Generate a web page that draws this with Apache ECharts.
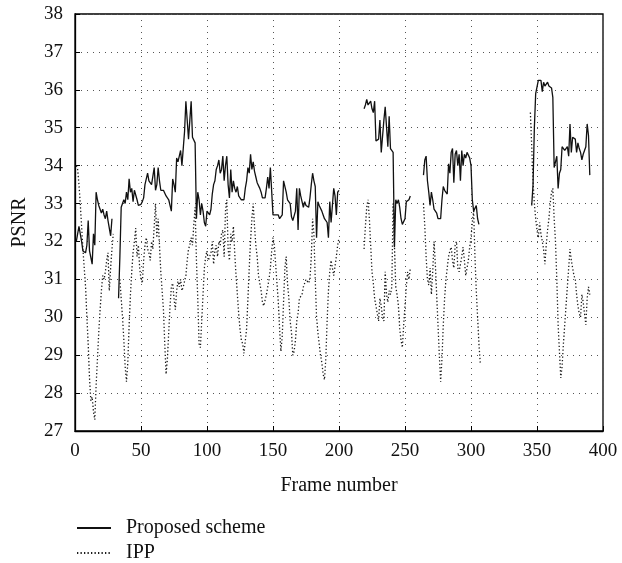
<!DOCTYPE html>
<html>
<head>
<meta charset="utf-8">
<title>PSNR per frame</title>
<script src="https://cdn.jsdelivr.net/npm/echarts@6/dist/echarts.min.js"></script>
<style>
  html, body { margin: 0; padding: 0; background: #fff; }
  #chart { width: 622px; height: 563px; }
</style>
</head>
<body>
<div id="chart"></div>
<script>
// Axis ranges and tick steps
const frameTicks = [0, 50, 100, 150, 200, 250, 300, 350, 400];
const psnrTicks = [27, 28, 29, 30, 31, 32, 33, 34, 35, 36, 37, 38];

// Legend / series names
const seriesNames = ['Proposed scheme', 'IPP'];

// Proposed scheme: first frame of each run, then the PSNR of consecutive frames
const proposedStarts = [1, 33, 219, 264, 346];
const proposedRun1 = [32.0, 32.2, 32.4, 32.45, 32.0, 31.75, 31.8, 31.7, 31.9, 32.55,
  31.75, 31.8, 31.4, 32.2, 31.9, 33.3, 33.1, 32.95, 32.85, 32.75,
  32.85, 32.7, 32.6, 32.8, 32.55, 32.5, 32.15, 32.6];
const proposedRun2 = [30.5, 31.6, 32.9, 33.0, 33.1, 33.0, 33.3, 33.1, 33.65, 33.3,
  33.4, 33.05, 33.35, 33.3, 33.1, 32.95, 33.0, 32.98, 33.05, 33.15,
  33.5, 33.55, 33.8, 33.6, 33.55, 33.5, 33.5, 33.95, 33.35, 33.5,
  33.95, 33.6, 33.35, 33.3, 33.35, 33.3, 33.2, 33.25, 33.1, 33.05,
  32.8, 33.65, 33.5, 33.3, 34.2, 34.1, 34.15, 34.4, 34.0, 34.45,
  34.9, 35.7, 35.7, 34.7, 35.2, 35.7, 34.75, 34.7, 34.6, 32.6,
  33.3, 33.1, 32.7, 33.0, 32.8, 32.5, 32.4, 32.8, 32.75, 32.7,
  32.85, 33.25, 33.5, 33.6, 33.9, 34.0, 34.15, 33.8, 33.9, 34.25,
  33.6, 34.0, 34.25, 33.5, 33.15, 33.9, 33.3, 33.6, 33.4, 33.3,
  33.45, 33.2, 33.15, 33.1, 33.1, 33.1, 33.4, 33.6, 33.95, 33.8,
  34.3, 33.9, 34.1, 33.85, 33.7, 33.55, 33.6, 33.4, 33.3, 33.15,
  33.1, 33.15, 33.4, 33.7, 33.4, 33.95, 34.0, 32.7, 32.75, 32.7,
  32.75, 32.7, 32.6, 32.6, 32.7, 33.6, 33.65, 33.3, 33.1, 33.1,
  33.0, 32.65, 32.55, 32.6, 32.8, 33.4, 32.3, 33.4, 33.2, 33.15,
  32.9, 33.05, 32.95, 32.9, 32.9, 33.15, 33.5, 33.8, 33.6, 33.45,
  32.1, 33.05, 32.95, 32.9, 32.8, 32.7, 32.6, 32.65, 32.5, 32.1,
  33.05, 32.5, 32.45, 33.4, 33.2, 32.7, 33.3, 33.35];
const proposedRun3 = [35.5, 35.6, 35.75, 35.6, 35.55, 35.7, 35.5, 35.4, 35.7, 34.65,
  34.65, 34.7, 35.2, 34.35, 34.35, 35.2, 35.55, 35.5, 34.5, 35.3,
  34.45, 34.4, 34.35, 31.85, 33.1, 33.0, 33.1, 32.9, 32.6, 32.45,
  32.4, 32.6, 33.05, 33.0, 33.1, 33.2];
const proposedRun4 = [33.75, 34.15, 34.25, 33.6, 33.3, 32.95, 33.3, 33.1, 32.85, 32.8,
  32.75, 32.6, 32.6, 32.6, 33.1, 33.45, 33.35, 33.3, 33.25, 34.05,
  33.8, 34.35, 34.45, 33.55, 34.3, 34.4, 34.0, 34.3, 33.6, 34.4,
  34.0, 34.3, 34.2, 34.35, 34.4, 34.2, 34.0, 33.1, 32.8, 32.8,
  32.95, 32.6, 32.45];
const proposedRun5 = [32.95, 33.5, 35.0, 35.9, 35.95, 36.25, 36.3, 36.25, 35.95, 36.2,
  36.1, 36.15, 36.2, 36.1, 36.15, 36.05, 35.8, 33.95, 33.9, 34.25,
  33.4, 33.8, 33.9, 34.5, 34.5, 34.4, 34.45, 34.5, 34.25, 35.1,
  34.35, 34.75, 34.75, 34.7, 34.35, 34.6, 34.45, 34.35, 34.15, 34.3,
  34.4, 34.5, 35.1, 34.8, 33.75];

// IPP: same layout
const ippStarts = [1, 34, 219, 264, 345];
const ippRun1 = [34.0, 33.9, 33.5, 33.0, 32.4, 31.8, 31.3, 30.8, 30.0, 29.3,
  28.4, 27.8, 27.9, 27.5, 27.3, 28.2, 28.9, 29.6, 30.2, 30.7,
  31.1, 31.0, 31.2, 31.5, 31.7, 30.7, 31.3, 31.8, 32.2];
const ippRun2 = [31.0, 30.5, 30.0, 29.4, 28.7, 28.3, 28.8, 29.8, 30.6, 31.2,
  31.7, 32.0, 32.35, 31.6, 31.9, 31.3, 31.0, 30.9, 31.5, 31.9,
  32.1, 31.8, 31.7, 31.5, 32.0, 31.8, 32.4, 33.0, 32.1, 32.6,
  31.9, 31.2, 30.7, 30.2, 29.3, 28.5, 28.9, 29.6, 30.3, 30.8,
  30.9, 30.5, 30.2, 30.7, 30.95, 30.8, 31.0, 30.7, 30.8, 30.75,
  31.1, 31.5, 31.8, 31.9, 32.1, 31.9, 32.45, 32.9, 31.5, 30.5,
  29.3, 29.2, 29.9, 30.6, 31.3, 31.6, 31.75, 31.5, 31.6, 31.7,
  32.0, 31.4, 31.75, 31.9, 31.6, 32.0, 31.9, 32.2, 32.3, 31.6,
  32.8, 33.1, 31.8, 31.5, 32.2, 32.0, 32.4, 31.7, 31.1, 30.6,
  30.1, 29.7, 29.4, 29.3, 29.05, 29.1, 29.7, 30.5, 31.3, 32.0,
  32.6, 33.0, 32.4, 31.9, 31.6, 31.1, 30.9, 30.7, 30.4, 30.3,
  30.45, 30.6, 30.8, 31.0, 31.3, 31.75, 32.1, 31.9, 31.4, 30.9,
  30.4, 29.7, 29.1, 29.5, 30.4, 31.3, 31.6, 30.9, 30.5, 29.9,
  29.6, 29.0, 29.1, 29.4, 29.9, 30.1, 30.5, 30.5, 30.6, 30.8,
  30.85, 31.0, 30.95, 30.9, 31.0, 31.6, 32.6, 32.2, 31.0, 30.0,
  29.6, 29.3, 29.0, 28.8, 28.5, 28.35, 28.9, 29.9, 30.7, 31.2,
  31.5, 31.3, 31.1, 31.35, 31.6, 31.9, 32.1];
const ippRun3 = [31.8, 32.4, 32.9, 33.1, 32.6, 31.9, 31.2, 30.9, 30.5, 30.3,
  30.1, 29.9, 30.5, 30.3, 30.0, 29.9, 31.2, 30.6, 30.4, 30.7,
  30.6, 30.8, 33.0, 31.9, 30.8, 30.6, 30.3, 29.7, 29.4, 29.2,
  29.8, 30.3, 30.8, 31.2, 31.0, 31.3];
const ippRun4 = [33.0, 32.4, 31.6, 31.0, 30.85, 31.3, 30.6, 31.2, 32.0, 31.4,
  30.6, 29.8, 29.0, 28.3, 28.9, 29.8, 30.5, 31.0, 31.3, 31.6,
  31.75, 31.85, 31.5, 31.3, 31.9, 32.0, 31.3, 31.2, 31.4, 31.6,
  31.85, 31.5, 31.1, 31.3, 31.5, 31.85, 32.1, 32.5, 32.8, 31.6,
  30.7, 30.0, 29.3, 28.8];
const ippRun5 = [35.4, 34.5, 33.6, 33.0, 32.6, 32.3, 32.1, 32.5, 32.2, 32.0,
  31.8, 31.4, 31.9, 32.3, 32.6, 33.0, 33.3, 33.4, 32.6, 32.0,
  31.0, 29.8, 29.1, 28.4, 28.7, 29.3, 29.8, 30.3, 30.8, 31.3,
  31.8, 31.5, 31.3, 31.1, 31.0, 30.6, 30.3, 30.1, 30.0, 30.6,
  30.4, 30.1, 29.8, 30.5, 30.8, 30.6];

// Turn runs into [frame, psnr] points, with a break between runs
function toPoints(starts, runs) {
  const pts = [];
  runs.forEach((vals, k) => {
    if (k > 0) pts.push([starts[k] - 1, '-']);
    vals.forEach((v, i) => pts.push([starts[k] + i, v]));
  });
  return pts;
}

const proposedPoints = toPoints(proposedStarts,
  [proposedRun1, proposedRun2, proposedRun3, proposedRun4, proposedRun5]);
const ippPoints = toPoints(ippStarts,
  [ippRun1, ippRun2, ippRun3, ippRun4, ippRun5]);

const serif = 'Liberation Serif';
const gridDots = { color: '#555', width: 1, type: [1, 5] };

const chart = echarts.init(document.getElementById('chart'), null, { renderer: 'canvas' });
chart.setOption({
  animation: false,
  backgroundColor: '#fff',
  grid: {
    left: 75, right: 19, top: 14, bottom: 132,
    show: true, borderColor: '#000', borderWidth: 1.3, backgroundColor: 'transparent'
  },
  legend: {
    orient: 'vertical',
    left: 76, top: 518,
    padding: 0,
    itemWidth: 34, itemHeight: 12, itemGap: 5,
    data: seriesNames,
    itemStyle: { opacity: 0, borderWidth: 0 },
    textStyle: { fontFamily: serif, fontSize: 20, lineHeight: 20, color: '#111', padding: [0, 0, 0, 10] }
  },
  xAxis: {
    type: 'value',
    min: frameTicks[0], max: frameTicks[frameTicks.length - 1],
    interval: frameTicks[1] - frameTicks[0],
    name: 'Frame number', nameLocation: 'middle', nameGap: 45,
    nameTextStyle: { fontFamily: serif, fontSize: 20, color: '#111' },
    axisLine: { show: true, lineStyle: { color: '#000', width: 1.3 } },
    axisTick: { show: true, inside: true, length: 5, lineStyle: { color: '#000' } },
    axisLabel: { fontFamily: serif, fontSize: 19, color: '#111', margin: 11 },
    splitLine: { show: true, lineStyle: gridDots }
  },
  yAxis: {
    type: 'value',
    min: psnrTicks[0], max: psnrTicks[psnrTicks.length - 1],
    interval: psnrTicks[1] - psnrTicks[0],
    name: 'PSNR', nameLocation: 'middle', nameGap: 45, nameRotate: 90,
    nameTextStyle: { fontFamily: serif, fontSize: 20, color: '#111' },
    axisLine: { show: true, lineStyle: { color: '#000', width: 1.3 } },
    axisTick: { show: true, inside: true, length: 5, lineStyle: { color: '#000' } },
    axisLabel: { fontFamily: serif, fontSize: 19, color: '#111', margin: 12 },
    splitLine: { show: true, lineStyle: gridDots }
  },
  series: [
    {
      name: seriesNames[0],
      type: 'line',
      data: proposedPoints,
      symbol: 'none',
      connectNulls: false,
      lineStyle: { color: '#111', width: 1.3, type: 'solid' },
      itemStyle: { color: '#111' },
      z: 3
    },
    {
      name: seriesNames[1],
      type: 'line',
      data: ippPoints,
      symbol: 'none',
      connectNulls: false,
      lineStyle: { color: '#1a1a1a', width: 1.3, type: [1.3, 2.2] },
      itemStyle: { color: '#1a1a1a' },
      z: 2
    }
  ]
});
</script>
</body>
</html>
